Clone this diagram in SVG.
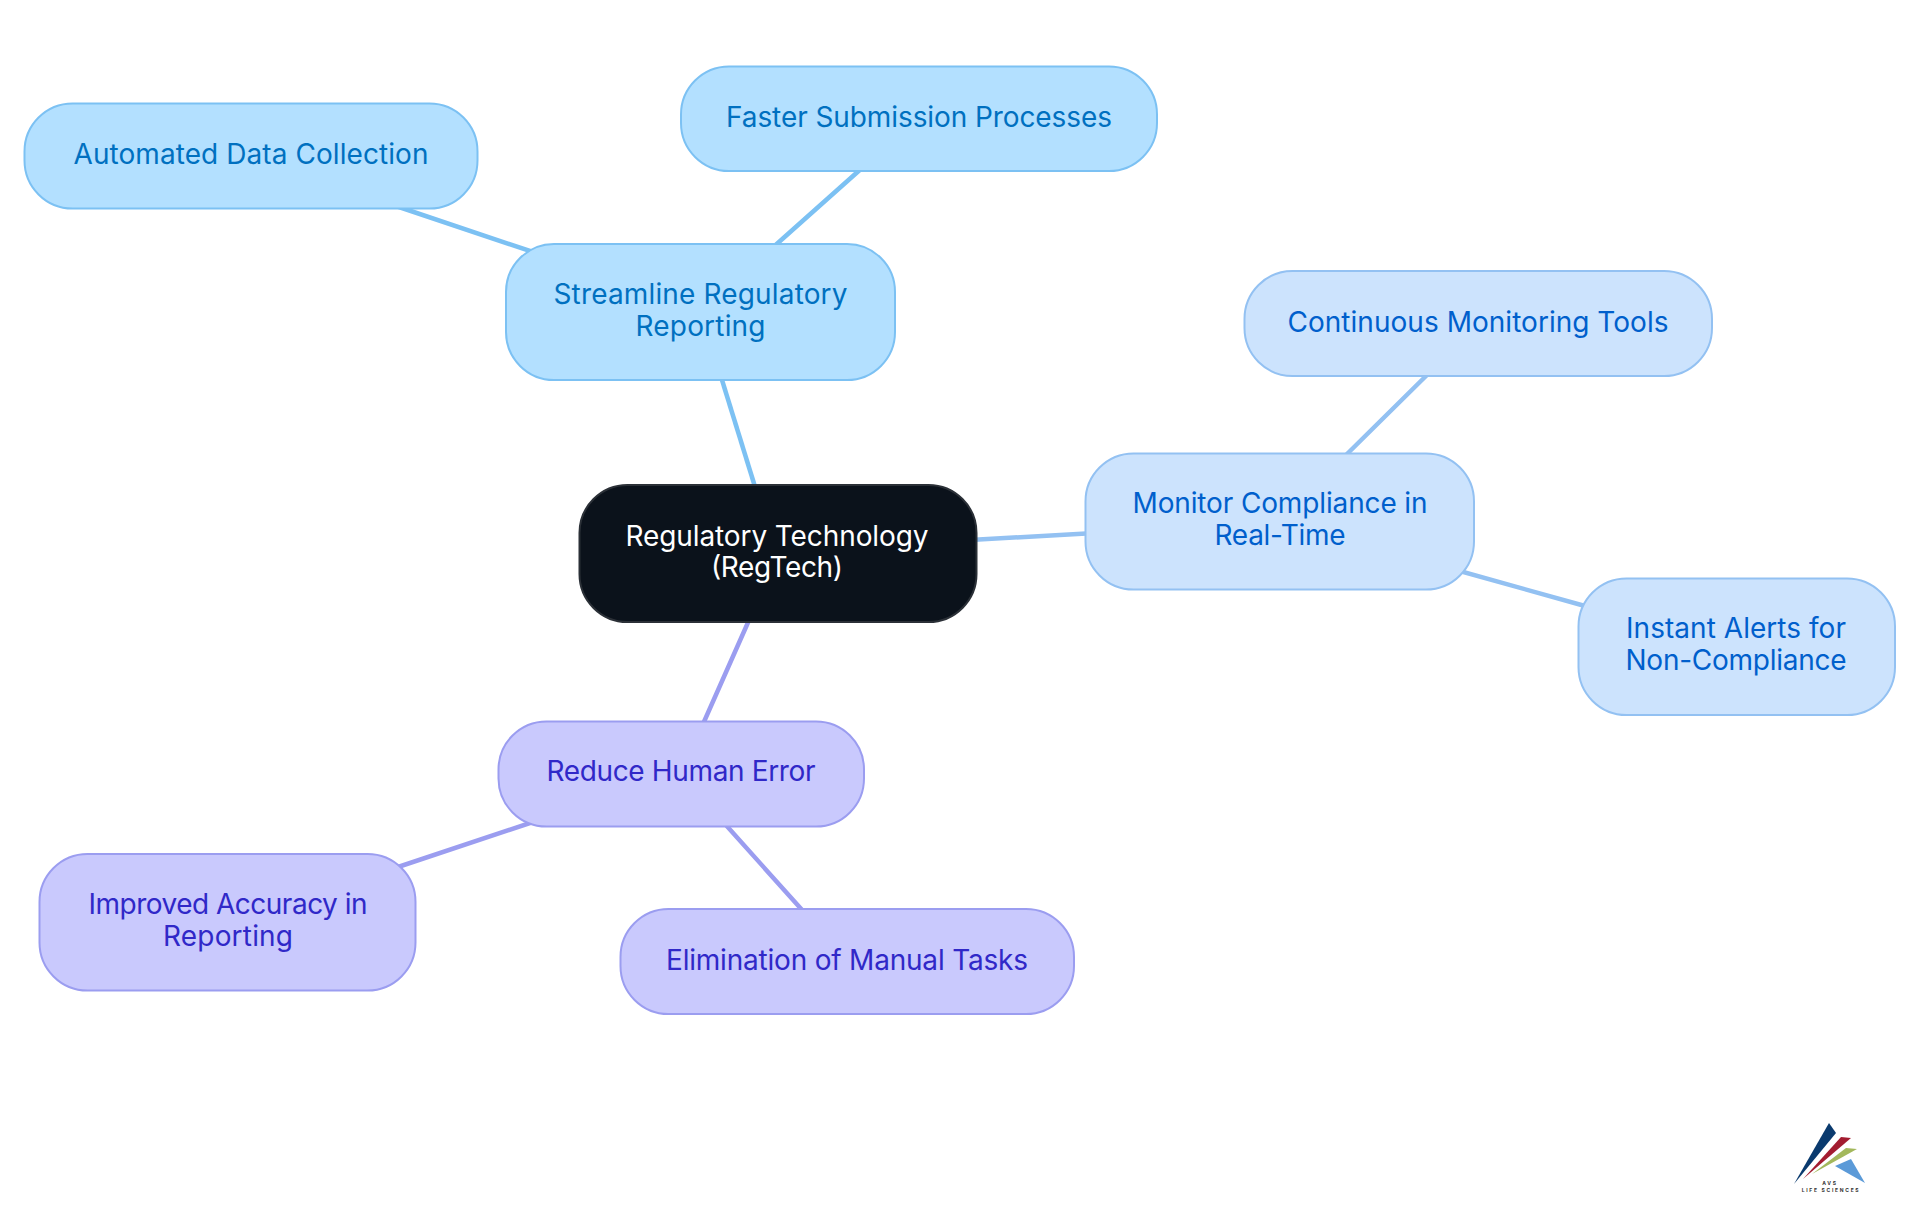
<svg xmlns="http://www.w3.org/2000/svg" width="1920" height="1215" viewBox="0 0 1920 1215">
<style>
.n{stroke-width:2}
text{font-family:"Inter","Noto Sans",sans-serif;font-size:28px;text-anchor:middle}
.c{stroke-width:4.5;fill:none}
.a rect{fill:#b3e0ff;stroke:#7cc1f3}.a text{fill:#0070c0}
.b rect{fill:#cce3fd;stroke:#93c1f2}.b text{fill:#005fcc}
.p rect{fill:#c9c9fd;stroke:#9b9df0}.p text{fill:#3028c8}
.l{font-size:5px;font-weight:700;letter-spacing:1.7px;fill:#333}
</style>
<rect width="1920" height="1215" fill="#fff"/>
<g id="connectors">
<path class="c" stroke="#7cc1f3" d="M756 490L722 380"/>
<path class="c" stroke="#7cc1f3" d="M390 204L545 256M770 250L862 168"/>
<path class="c" stroke="#93c1f2" d="M970 540L1095 533M1345 456L1428 374M1440 565.500L1585 606"/>
<path class="c" stroke="#9b9df0" d="M750 618L703 724M380 873L560 813M725 824L803 911"/>
</g>
<g id="root"><rect x="579.500" y="485" width="397" height="137" rx="48" fill="#0b121b" stroke="#2b3037" class="n"/><text x="777" y="546" fill="#fff" textLength="303">Regulatory Technology</text><text x="777" y="577" fill="#fff" textLength="132">(RegTech)</text></g>
<g id="streamline" class="a"><rect class="n" x="506" y="244" width="389" height="136" rx="48"/><text x="700.500" y="304" textLength="294">Streamline Regulatory</text><text x="700.500" y="336" textLength="130">Reporting</text></g>
<g id="faster" class="a"><rect class="n" x="681" y="66.500" width="476" height="104.500" rx="48"/><text x="919" y="127" textLength="386">Faster Submission Processes</text></g>
<g id="automated" class="a"><rect class="n" x="24.500" y="103.500" width="453" height="105" rx="48"/><text x="251" y="164" textLength="355">Automated Data Collection</text></g>
<g id="monitor" class="b"><rect class="n" x="1085.500" y="453.500" width="388.500" height="136" rx="48"/><text x="1280" y="513" textLength="295">Monitor Compliance in</text><text x="1280" y="545" textLength="131">Real-Time</text></g>
<g id="continuous" class="b"><rect class="n" x="1244.500" y="271" width="467.500" height="105" rx="48"/><text x="1478" y="332" textLength="381">Continuous Monitoring Tools</text></g>
<g id="instant" class="b"><rect class="n" x="1578.500" y="578.500" width="316.500" height="136.500" rx="48"/><text x="1736" y="638" textLength="220">Instant Alerts for</text><text x="1736" y="670" textLength="221">Non-Compliance</text></g>
<g id="reduce" class="p"><rect class="n" x="498.500" y="721.500" width="365.500" height="105" rx="48"/><text x="681" y="781" textLength="269">Reduce Human Error</text></g>
<g id="improved" class="p"><rect class="n" x="39.500" y="854" width="376" height="136.500" rx="48"/><text x="228" y="914" textLength="279">Improved Accuracy in</text><text x="228" y="946" textLength="130">Reporting</text></g>
<g id="elimination" class="p"><rect class="n" x="620.500" y="909" width="453.500" height="105" rx="48"/><text x="847" y="970" textLength="362">Elimination of Manual Tasks</text></g>
<g id="logo"><path fill="#0a3a6e" d="M1794 1184L1829 1123L1836 1133Z"/><path fill="#a31c30" d="M1803 1179L1841 1137L1851 1138Z"/><path fill="#a3b85c" d="M1812 1174L1846 1148L1857 1149Z"/><path fill="#5b9ad8" d="M1835 1166L1851 1159L1865 1183Z"/><text class="l" x="1830" y="1185">AVS</text><text class="l" x="1831" y="1192">LIFE SCIENCES</text></g>
</svg>
